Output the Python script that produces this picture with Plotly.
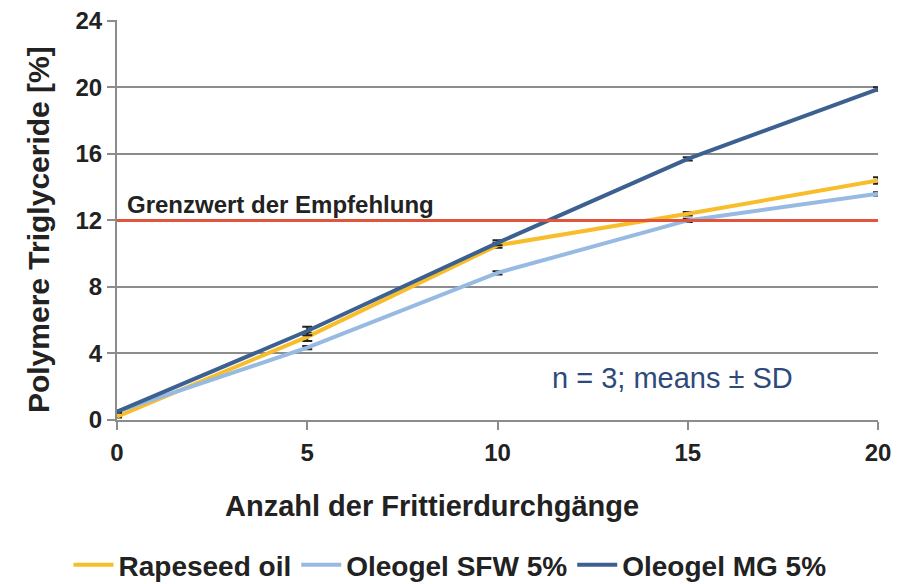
import plotly.graph_objects as go

cycles = [0, 5, 10, 15, 20]
rapeseed = [0.2, 5.0, 10.5, 12.4, 14.4]
rapeseed_sd = [0.05, 0.25, 0.15, 0.1, 0.2]
sfw = [0.5, 4.35, 8.85, 12.0, 13.6]
sfw_sd = [0.05, 0.1, 0.1, 0.1, 0.1]
mg = [0.5, 5.35, 10.65, 15.7, 19.9]
mg_sd = [0.05, 0.25, 0.15, 0.1, 0.1]
limit = 12
y_ticks = [0, 4, 8, 12, 16, 20, 24]
x_ticks = [0, 5, 10, 15, 20]

font_family = "Liberation Sans, Arial, sans-serif"
text_col = "#222222"
axis_col = "#8C8C8C"
fig = go.Figure()

series = [
    ("Rapeseed oil", rapeseed, rapeseed_sd, "#F8BD2A"),
    ("Oleogel SFW 5%", sfw, sfw_sd, "#97BAE2"),
    ("Oleogel MG 5%", mg, mg_sd, "#3C6190"),
]
for name, vals, sd, col in series:
    fig.add_trace(go.Scatter(
        x=cycles, y=vals, mode="lines", name=name,
        line=dict(color=col, width=4),
        error_y=dict(type="data", array=sd, visible=True, color=text_col, thickness=2, width=5),
        cliponaxis=False,
    ))

fig.add_trace(go.Scatter(
    x=[0, 20], y=[limit, limit], mode="lines", showlegend=False,
    line=dict(color="#E2553C", width=3), hoverinfo="skip",
))

fig.add_annotation(x=0.2, y=limit, xref="x", yref="y", text="<b>Grenzwert der Empfehlung</b>",
                   showarrow=False, xanchor="left", yanchor="bottom", yshift=0,
                   font=dict(family=font_family, size=24, color=text_col))
fig.add_annotation(x=0.73, y=0.105, xref="paper", yref="paper", text="n = 3; means ± SD",
                   showarrow=False, xanchor="center", yanchor="middle",
                   font=dict(family=font_family, size=29, color="#2E4A7C"))
fig.add_annotation(xref="paper", yref="paper", x=0.414, y=-0.215,
                   text="<b>Anzahl der Frittierdurchgänge</b>", showarrow=False,
                   xanchor="center", yanchor="middle",
                   font=dict(family=font_family, size=29, color=text_col))
fig.add_annotation(xref="paper", yref="paper", x=-0.104, y=0.477,
                   text="<b>Polymere Triglyceride [%]</b>", textangle=-90, showarrow=False,
                   xanchor="center", yanchor="middle",
                   font=dict(family=font_family, size=30, color=text_col))

fig.update_layout(
    width=902, height=584,
    margin=dict(l=109, r=32, t=12, b=172, autoexpand=False),
    paper_bgcolor="white", plot_bgcolor="white",
    font=dict(family=font_family, color=text_col),
    showlegend=True,
    legend=dict(orientation="h", x=0.49, xanchor="center", xref="container", y=0.046, yanchor="middle",
                yref="container",
                font=dict(family=font_family, size=28, color=text_col, weight="bold"),
                itemwidth=40, tracegroupgap=0),
    xaxis=dict(range=[0, 20], tickvals=x_ticks, showgrid=False, zeroline=False, automargin=False,
               showline=True, linecolor=axis_col, linewidth=2,
               ticks="outside", ticklen=8, tickcolor=axis_col, tickwidth=2, ticklabelstandoff=2,
               tickfont=dict(family=font_family, size=24, color=text_col, weight="bold")),
    yaxis=dict(range=[0, 24.05], tickvals=y_ticks, showgrid=True, gridcolor=axis_col, gridwidth=2,
               zeroline=False, showline=True, linecolor=axis_col, linewidth=2, automargin=False,
               ticks="outside", ticklen=8, tickcolor=axis_col, tickwidth=2,
               ticklabeloverflow="allow",
               tickfont=dict(family=font_family, size=24, color=text_col, weight="bold")),
)

fig.write_html("out.html")
